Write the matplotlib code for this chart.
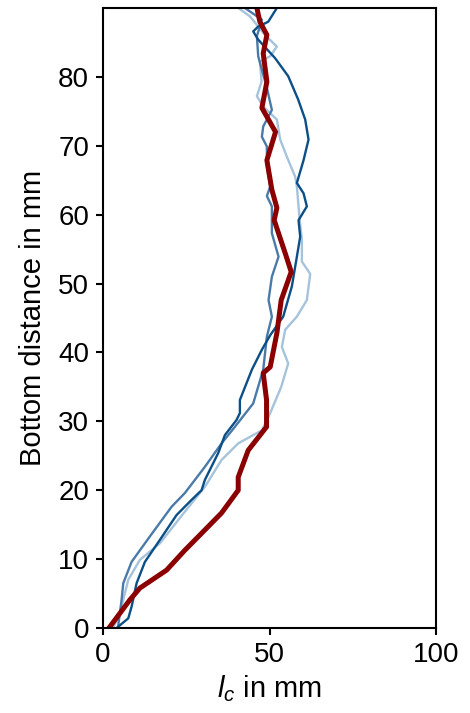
import matplotlib
matplotlib.use("Agg")
import matplotlib.pyplot as plt

plt.rcParams["font.family"] = ["Liberation Sans", "DejaVu Sans"]
plt.rcParams["mathtext.fontset"] = "custom"
plt.rcParams["mathtext.rm"] = "Liberation Sans"
plt.rcParams["mathtext.it"] = "Liberation Sans:italic"

# Crack length profiles: (bottom distance, l_c) pairs per specimen
light_y = [0, 2.0, 4.1, 7.0, 9.9, 12.3, 16.9, 20.5, 24.4, 26.8, 28.7, 31.2, 35.0, 38.4,
           40.8, 43.3, 45.2, 47.6, 51.4, 53.2, 56.3, 59.5, 61.2, 64.1, 65.5, 68.4, 70.9,
           73.8, 75.7, 77.2, 79.3, 82.2, 83.0, 84.4, 86.1, 88.8, 90]
light_x = [3.0, 5.0, 6.1, 7.6, 11.1, 17.1, 24.6, 30.6, 35.6, 40.6, 47.7, 50.2, 53.5, 55.6,
           53.7, 54.7, 58.2, 61.2, 62.2, 59.7, 59.7, 59.0, 58.7, 58.2, 57.7, 55.2, 53.2,
           52.2, 48.1, 46.2, 47.6, 47.1, 50.2, 52.2, 48.6, 44.1, 40.6]

mid_y = [0, 2.2, 4.1, 6.5, 9.6, 13.3, 17.6, 19.6, 23.4, 26.8, 29.2, 32.6, 37.5, 42.3,
         45.2, 47.6, 51.0, 53.9, 57.3, 61.2, 62.7, 64.1, 67.0, 69.9, 71.3, 72.8, 75.2,
         78.4, 83.0, 85.9, 88.3, 90]
mid_x = [4.5, 5.1, 5.6, 6.1, 8.6, 14.1, 20.6, 24.6, 30.6, 35.6, 39.6, 45.1, 48.1, 49.2,
         50.7, 49.7, 50.7, 52.7, 50.7, 50.7, 49.2, 50.2, 49.2, 49.2, 47.7, 48.1, 50.7,
         49.2, 46.6, 46.2, 47.7, 42.6]

dark_y = [0, 1.4, 3.1, 6.5, 9.6, 12.8, 16.4, 18.6, 20.0, 21.5, 25.4, 28.0, 30.2, 31.2,
          33.1, 37.5, 40.4, 42.5, 45.2, 49.6, 53.9, 56.8, 59.2, 61.2, 63.1, 64.6, 67.9,
          70.9, 73.8, 76.7, 80.1, 82.7, 85.4, 86.6, 87.3, 88.0, 90]
dark_x = [4.1, 7.6, 8.6, 10.1, 12.6, 17.1, 22.1, 26.6, 29.6, 30.6, 34.6, 36.6, 40.1, 41.1,
          41.1, 44.7, 47.7, 50.2, 54.1, 56.7, 58.2, 59.2, 58.7, 61.2, 60.2, 58.2, 60.2,
          61.7, 60.7, 58.6, 55.6, 51.7, 46.6, 45.1, 46.6, 49.6, 52.2]

mean_y = [0, 4.1, 5.8, 8.4, 11.3, 13.5, 16.7, 20.0, 21.9, 25.8, 29.2, 33.1, 37.0,
          37.9, 42.8, 47.6, 51.7, 54.4, 57.3, 59.2, 61.0, 63.6, 67.9, 72.0, 75.5, 79.3,
          83.4, 86.1, 88.0, 90]
mean_x = [1.8, 8.1, 11.1, 19.1, 24.6, 29.1, 35.6, 40.6, 40.6, 43.6, 49.1, 49.1, 48.1,
          50.2, 52.2, 53.5, 56.5, 54.7, 52.7, 51.4, 52.2, 50.7, 49.2, 51.8, 47.7, 49.2,
          48.1, 49.2, 47.1, 46.2]

fig = plt.figure(figsize=(4.70, 7.13), dpi=100)
ax = fig.add_axes([0.219, 0.1192, 0.709, 0.8696])

ax.plot(light_x, light_y, color="#a6c3dc", lw=1.7)
ax.plot(mid_x, mid_y, color="#4a7aa8", lw=1.7)
ax.plot(dark_x, dark_y, color="#0b4f86", lw=1.7)
ax.plot(mean_x, mean_y, color="#8b0000", lw=3.6)

ax.set_xlim(0, 100)
ax.set_ylim(0, 90)
ax.set_xticks([0, 50, 100])
ax.set_yticks(range(0, 90, 10))

for s in ax.spines.values():
    s.set_linewidth(1.5)
ax.tick_params(direction="out", length=5, width=1.5, labelsize=20, pad=5)

ax.set_xlabel(r"$l_c$ in mm", fontsize=21, labelpad=4)
ax.set_ylabel("Bottom distance in mm", fontsize=21, labelpad=8)

fig.savefig("out.png", dpi=100)
